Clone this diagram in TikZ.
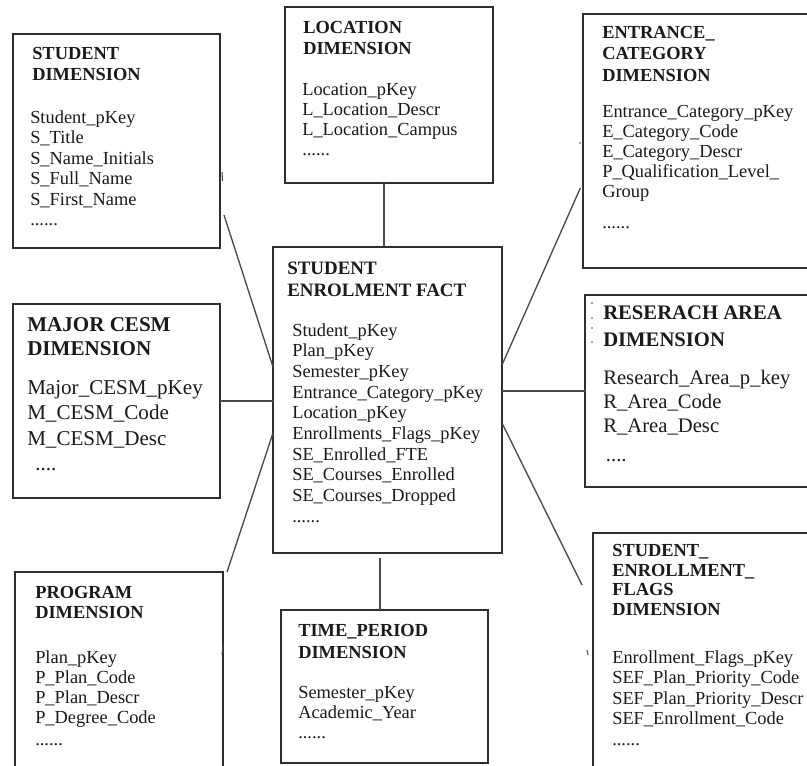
\documentclass[tikz,border=0pt]{standalone}
\usepackage{fontspec}
\setmainfont{Liberation Serif}
\definecolor{ink}{HTML}{1A1A1A}
\definecolor{boxline}{HTML}{2E2E2E}
\definecolor{link}{HTML}{4A4A4A}
\newcommand\fsz[2]{\fontsize{#1}{#2}\selectfont}
\begin{document}
\begin{tikzpicture}[x=0.75pt,y=-0.75pt,
  tbl/.style={draw=boxline, line width=1.3pt, fill=white, inner sep=0pt,
              outer sep=0pt, anchor=north west},
  head/.style={anchor=north west, inner sep=0pt, align=left, text=ink},
  fld/.style={anchor=north west, inner sep=0pt, align=left, text=ink},
  rel/.style={draw=link, line width=1pt},
  speck/.style={draw=link, line width=0.8pt}]
\useasboundingbox (0,0) rectangle (807,765);
\clip (0,0) rectangle (807,765);
\fill[white] (0,0) rectangle (807,765);

% ---- tables ----
\node[tbl, minimum width=155.25pt, minimum height=160.5pt] (stud)  at (13,34)  {};
\node[tbl, minimum width=156pt,    minimum height=132pt]   (loc)   at (285,7)  {};
\node[tbl, minimum width=174pt,    minimum height=190.5pt] (ent)   at (583,14) {};
\node[tbl, minimum width=155.25pt, minimum height=145.5pt] (major) at (13,304) {};
\node[tbl, minimum width=171.75pt, minimum height=229.5pt] (fact)  at (273,247){};
\node[tbl, minimum width=172.5pt,  minimum height=144pt]   (res)   at (585,295){};
\node[tbl, minimum width=156pt,    minimum height=163.5pt] (prog)  at (15,572) {};
\node[tbl, minimum width=155.25pt, minimum height=114.75pt](time)  at (281,610){};
\node[tbl, minimum width=166.5pt,  minimum height=192.75pt](flags) at (593,533){};

% ---- table contents ----
\node[head, font=\bfseries\fsz{13.8}{15.8}] (stud-h) at (32,47)
  {STUDENT\\DIMENSION};
\node[fld, font=\fsz{13.8}{15.4}] (stud-f) at (30,110)
  {Student\_pKey\\S\_Title\\S\_Name\_Initials\\S\_Full\_Name\\S\_First\_Name\\......};

\node[head, font=\bfseries\fsz{13.8}{15.8}] (loc-h) at (303,21)
  {LOCATION\\DIMENSION};
\node[fld, font=\fsz{13.8}{15}] (loc-f) at (302,83)
  {Location\_pKey\\L\_Location\_Descr\\L\_Location\_Campus\\......};

\node[head, font=\bfseries\fsz{13.8}{16}] (ent-h) at (602,26)
  {ENTRANCE\_\\CATEGORY\\DIMENSION};
\node[fld, font=\fsz{13.8}{15}] (ent-f) at (602,105)
  {Entrance\_Category\_pKey\\E\_Category\_Code\\E\_Category\_Descr\\P\_Qualification\_Level\_\\Group\\[8pt]......};

\node[head, font=\bfseries\fsz{15.8}{18}] (major-h) at (27,317)
  {MAJOR CESM\\DIMENSION};
\node[fld, font=\fsz{15.8}{19.1}] (major-f) at (27,380)
  {Major\_CESM\_pKey\\M\_CESM\_Code\\M\_CESM\_Desc\\\hspace*{6pt}....};

\node[head, font=\bfseries\fsz{14.2}{16.5}] (fact-h) at (287,262)
  {STUDENT\\ENROLMENT FACT};
\node[fld, font=\fsz{13.8}{15.5}] (fact-f) at (292,323)
  {Student\_pKey\\Plan\_pKey\\Semester\_pKey\\Entrance\_Category\_pKey\\Location\_pKey\\Enrollments\_Flags\_pKey\\SE\_Enrolled\_FTE\\SE\_Courses\_Enrolled\\SE\_Courses\_Dropped\\......};

\node[head, font=\bfseries\fsz{15.5}{20}] (res-h) at (603,306)
  {RESERACH AREA\\DIMENSION};
\node[fld, font=\fsz{15.5}{18}] (res-f) at (603,370)
  {Research\_Area\_p\_key\\R\_Area\_Code\\R\_Area\_Desc\\[4pt]\hspace*{2pt}....};

\node[head, font=\bfseries\fsz{13.8}{15}] (prog-h) at (35,586)
  {PROGRAM\\DIMENSION};
\node[fld, font=\fsz{13.8}{15}] (prog-f) at (35,650)
  {Plan\_pKey\\P\_Plan\_Code\\P\_Plan\_Descr\\P\_Degree\_Code\\[2pt]......};

\node[head, font=\bfseries\fsz{13.8}{16.5}] (time-h) at (298,624)
  {TIME\_PERIOD\\DIMENSION};
\node[fld, font=\fsz{13.8}{15}] (time-f) at (298,686)
  {Semester\_pKey\\Academic\_Year\\......};

\node[head, font=\bfseries\fsz{13.8}{14.8}] (flags-h) at (612,544)
  {STUDENT\_\\ENROLLMENT\_\\FLAGS\\DIMENSION};
\node[fld, font=\fsz{13.8}{15.4}] (flags-f) at (612,650)
  {Enrollment\_Flags\_pKey\\SEF\_Plan\_Priority\_Code\\SEF\_Plan\_Priority\_Descr\\SEF\_Enrollment\_Code\\......};

% ---- links to the fact table ----
\draw[rel] ([xshift=3pt,yshift=24.75pt]stud.south east) -- ([yshift=-90pt]fact.north west);
\draw[rel] ([xshift=-3.75pt]loc.south) -- ([xshift=-3.75pt]loc.south |- fact.north);
\draw[rel] ([xshift=-2pt,yshift=60pt]ent.south west) -- ([yshift=-88.5pt]fact.north east);
\draw[rel] (major.east) -- (major.east -| fact.west);
\draw[rel] (res.west) -- (res.west -| fact.east);
\draw[rel] ([xshift=3pt]prog.north east) -- ([yshift=-139.5pt]fact.north west);
\draw[rel] ([xshift=-3.4pt]time.north) -- ([xshift=-3.4pt,yshift=-3.75pt]time.north |- fact.south);
\draw[rel] ([xshift=-8.25pt,yshift=-39pt]flags.north west) -- ([yshift=-132pt]fact.north east);

% ---- small stray marks beside the tables ----
\draw[speck] (222,172) -- (222.5,181);
\draw[speck] (223,645) -- (222,655);
\draw[speck] (587,650) -- (588,655);
\fill[link] (580,143) circle (0.9);
\foreach \yy in {303,318,328,342} \fill[link] (592,\yy) circle (0.8);
\end{tikzpicture}
\end{document}
